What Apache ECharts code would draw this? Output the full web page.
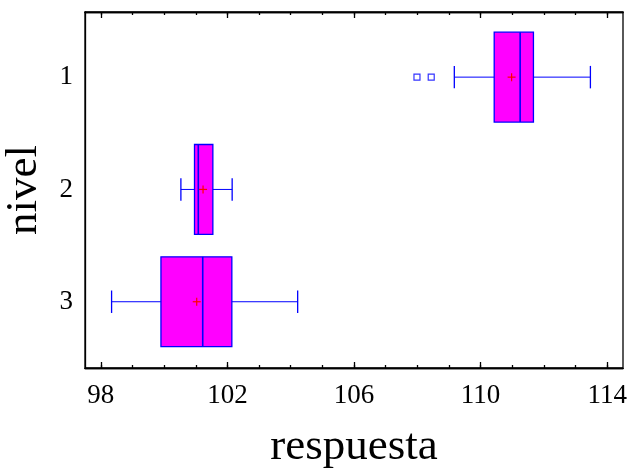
<!DOCTYPE html>
<html>
<head>
<meta charset="utf-8">
<script src="https://cdn.jsdelivr.net/npm/echarts@6/dist/echarts.min.js"></script>
<style>html,body{margin:0;padding:0;background:#fff}#c{width:629px;height:468px}</style>
</head>
<body>
<div id="c"></div>
<script>
var levels = [1, 2, 3];
var levelLabels = ['1', '2', '3'];
var whiskerLow = [109.17, 100.53, 98.34];
var q1 = [110.43, 100.96, 99.90];
var median = [111.25, 101.08, 101.22];
var q3 = [111.67, 101.54, 102.14];
var whiskerHigh = [113.47, 102.15, 104.22];
var means = [110.98, 101.23, 101.03];
var outlierValues = [107.99, 108.44];
var outlierLevels = [1, 1];
var majorTicks = [98, 102, 106, 110, 114];
var minorTicks = [98, 99, 100, 101, 102, 103, 104, 105, 106, 107, 108, 109, 110, 111, 112, 113, 114];

var FONT = "'Liberation Serif', 'Times New Roman', serif";
var boxData = levels.map(function (lv, i) {
  return [lv, whiskerLow[i], q1[i], median[i], q3[i], whiskerHigh[i], means[i]];
});
var outlierData = outlierValues.map(function (v, i) { return [v, outlierLevels[i]]; });

function renderBox(params, api) {
  var lv = api.value(0);
  var wl = api.value(1), a = api.value(2), m = api.value(3), b = api.value(4), wh = api.value(5), mn = api.value(6);
  var half = 0.4, cap = 0.1;
  var pTop = api.coord([a, lv - half]);
  var pBot = api.coord([b, lv + half]);
  var c = api.coord([a, lv]);
  var y = c[1];
  var xwl = api.coord([wl, lv])[0], xwh = api.coord([wh, lv])[0];
  var xa = c[0], xb = api.coord([b, lv])[0], xm = api.coord([m, lv])[0], xmn = api.coord([mn, lv])[0];
  var capTop = api.coord([wl, lv - cap])[1], capBot = api.coord([wl, lv + cap])[1];
  var blue = '#0000ff';
  return {
    type: 'group',
    children: [
      {type: 'line', shape: {x1: xwl, y1: y, x2: xa, y2: y}, style: {stroke: blue, lineWidth: 1}},
      {type: 'line', shape: {x1: xb, y1: y, x2: xwh, y2: y}, style: {stroke: blue, lineWidth: 1}},
      {type: 'line', shape: {x1: xwl, y1: capTop, x2: xwl, y2: capBot}, style: {stroke: blue, lineWidth: 1.3}},
      {type: 'line', shape: {x1: xwh, y1: capTop, x2: xwh, y2: capBot}, style: {stroke: blue, lineWidth: 1.3}},
      {type: 'rect', shape: {x: xa, y: pTop[1], width: xb - xa, height: pBot[1] - pTop[1]}, style: {fill: '#ff00ff', stroke: blue, lineWidth: 1.3}},
      {type: 'line', shape: {x1: xm, y1: pTop[1], x2: xm, y2: pBot[1]}, style: {stroke: blue, lineWidth: 1.6}},
      {type: 'line', shape: {x1: xmn - 4, y1: y, x2: xmn + 4, y2: y}, style: {stroke: '#ff0000', lineWidth: 1.2}},
      {type: 'line', shape: {x1: xmn, y1: y - 4, x2: xmn, y2: y + 4}, style: {stroke: '#ff0000', lineWidth: 1.2}}
    ]
  };
}

function xAx(pos, vals, len, showLabel, name) {
  return {
    type: 'value', position: pos, min: 97.5, max: 114.5, gridIndex: 0,
    name: name || '', nameLocation: 'middle', nameGap: 57,
    nameTextStyle: {fontFamily: FONT, fontSize: 45, color: '#000'},
    axisLine: {show: true, lineStyle: {color: '#000', width: 1.3}},
    axisTick: {show: true, inside: true, length: len, customValues: vals, lineStyle: {color: '#000', width: 1.3}},
    axisLabel: {show: showLabel, customValues: vals, fontFamily: FONT, fontSize: 27, color: '#000', margin: 14,
      formatter: function (v) { return String(v); }},
    splitLine: {show: false}
  };
}

var chart = echarts.init(document.getElementById('c'), null, {renderer: 'canvas'});
chart.setOption({
  animation: false,
  backgroundColor: '#fff',
  grid: {left: 85, right: 6, top: 12, bottom: 100, containLabel: false, outerBoundsMode: 'none',
    show: true, borderColor: '#000', borderWidth: 1.3, backgroundColor: 'transparent'},
  xAxis: [
    xAx('bottom', majorTicks, 6, true, 'respuesta'),
    xAx('bottom', minorTicks, 3, false),
    xAx('top', majorTicks, 6, false),
    xAx('top', minorTicks, 3, false)
  ],
  yAxis: {
    type: 'value', inverse: true, min: 0.42, max: 3.59,
    name: 'nivel', nameLocation: 'middle', nameGap: 38, nameRotate: 90,
    nameTextStyle: {fontFamily: FONT, fontSize: 45, color: '#000'},
    axisLine: {show: true, lineStyle: {color: '#000', width: 1.3}},
    axisTick: {show: false},
    axisLabel: {customValues: levels, fontFamily: FONT, fontSize: 27, color: '#000', margin: 12,
      formatter: function (v) { return levelLabels[levels.indexOf(v)]; }},
    splitLine: {show: false}
  },
  series: [
    {type: 'custom', xAxisIndex: 0, renderItem: renderBox, data: boxData, clip: false,
      encode: {x: [1, 2, 3, 4, 5, 6], y: 0}},
    {type: 'scatter', xAxisIndex: 0, data: outlierData, symbol: 'rect', symbolSize: 6,
      itemStyle: {color: '#ffffff', borderColor: '#0000ff', borderWidth: 1.2}}
  ]
});
</script>
</body>
</html>
